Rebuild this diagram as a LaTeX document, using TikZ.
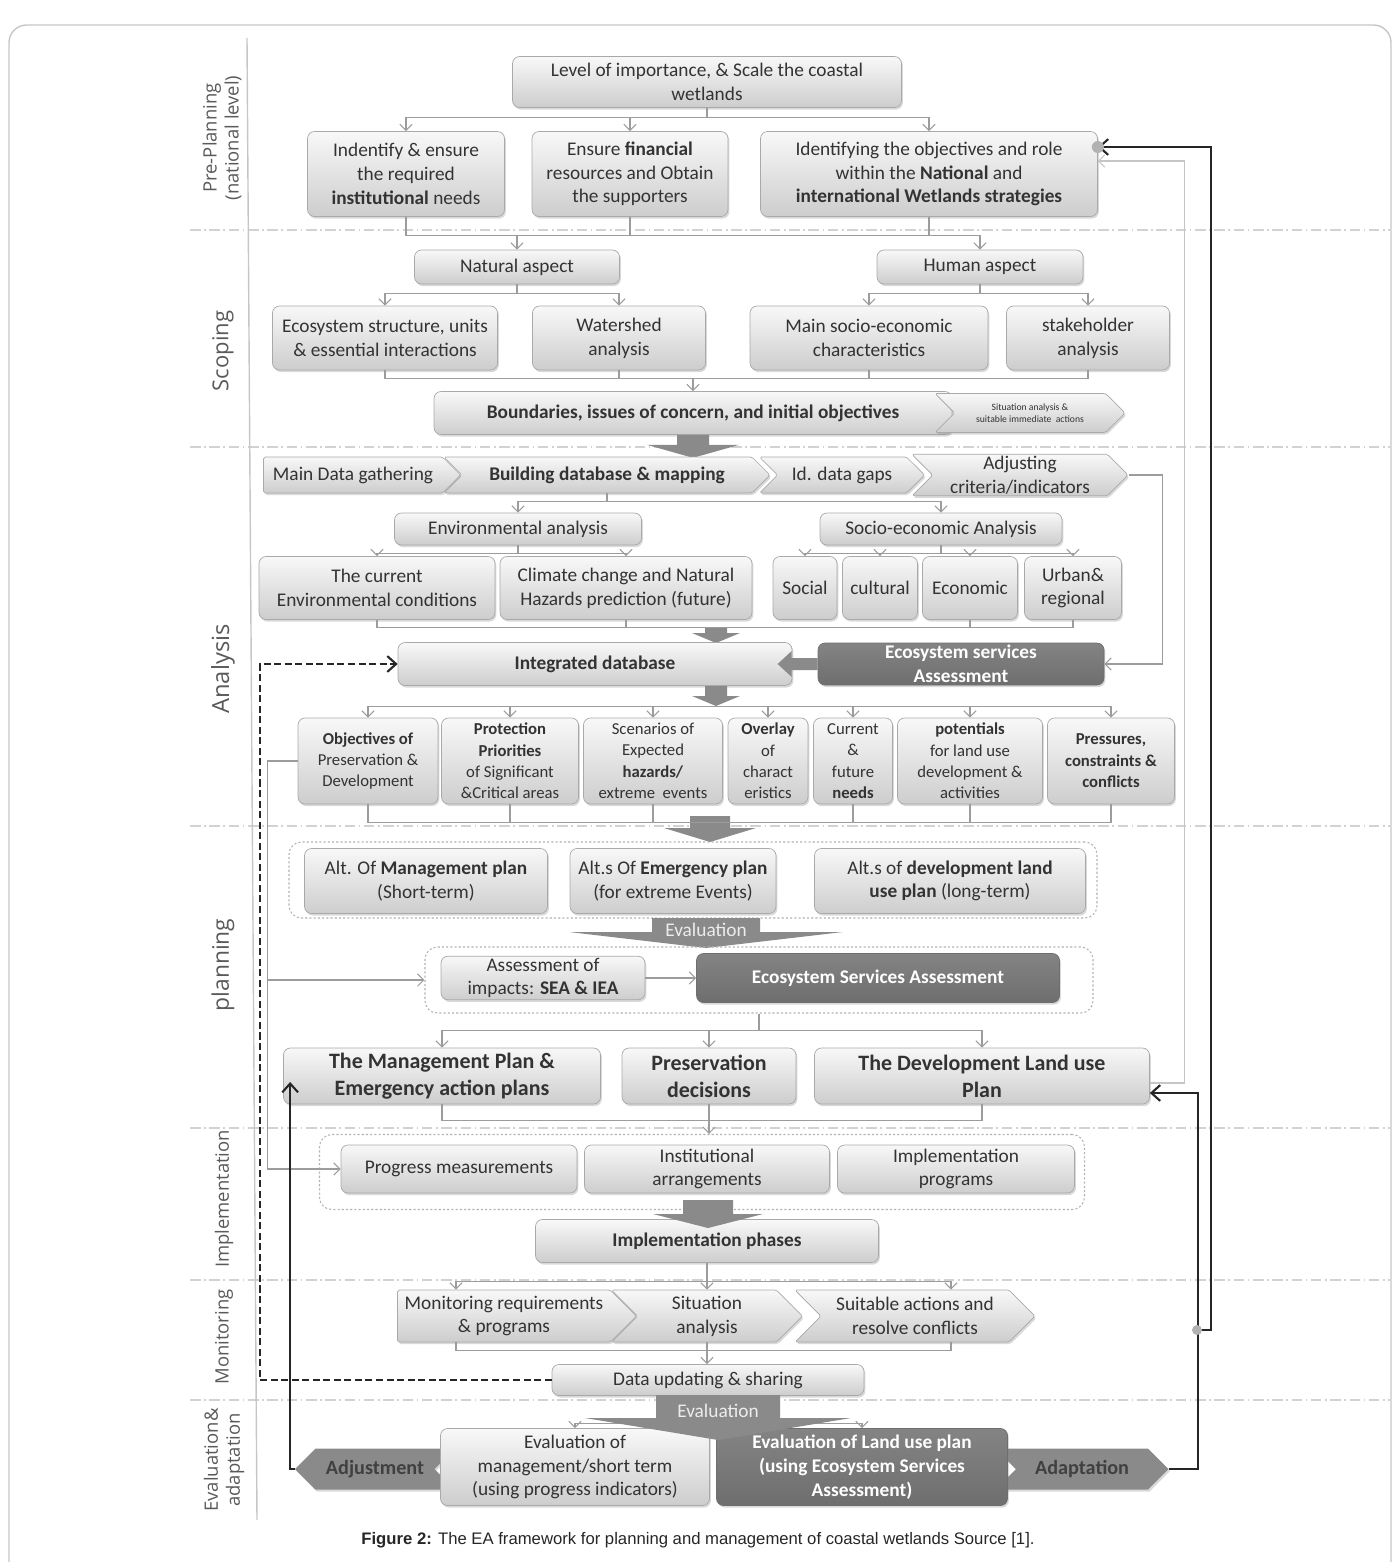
\documentclass[tikz,border=0pt]{standalone}
\usepackage{fontspec}
\setmainfont{Carlito}
\newfontfamily\sidefont{Open Sans}
\newfontfamily\capfont{Liberation Sans}
\usetikzlibrary{arrows.meta,shapes.symbols,shadows}

\definecolor{boxtop}{HTML}{F8F8F8}
\definecolor{boxbot}{HTML}{CDCDCD}
\definecolor{boxline}{HTML}{A9A9A9}
\definecolor{darkfill}{HTML}{6E6E6E}
\definecolor{fatgray}{HTML}{8A8A8A}
\definecolor{linegray}{HTML}{9C9C9C}
\definecolor{txt}{HTML}{333333}
\definecolor{sidegray}{HTML}{5A5A5A}

\tikzset{
  sz/.style 2 args={minimum width=#1*0.02cm, minimum height=#2*0.02cm},
  box/.style={rectangle, rounded corners=4pt, draw=boxline, top color=boxtop,
    bottom color=boxbot, drop shadow={opacity=0.3, shadow xshift=0.8pt,
    shadow yshift=-1.2pt}, align=center, text=txt, inner sep=1pt,
    font=\fontsize{11}{13.5}\selectfont},
  dark/.style={box, top color=darkfill!85, bottom color=darkfill, draw=darkfill,
    text=white, font=\fontsize{11}{13.5}\selectfont\bfseries},
  chev/.style={box, signal, signal to=east, signal from=west, rounded corners=1pt},
  hex/.style={signal, fill=fatgray, text=black!75, inner sep=1pt,
    font=\fontsize{11.5}{13.5}\selectfont\bfseries,
    drop shadow={opacity=0.3, shadow xshift=0.8pt, shadow yshift=-1.2pt}},
  group/.style={draw=gray!60, rounded corners=7pt, line width=0.6pt,
    dash pattern=on 1.2pt off 1.2pt},
  rowtext/.style={font=\fontsize{9.5}{12.2}\selectfont},
  bigtext/.style={font=\fontsize{12.5}{15.5}\selectfont\bfseries},
  side/.style={rotate=90, align=center, text=sidegray,
    font=\sidefont\fontsize{10.5}{12.5}\selectfont},
  divider/.style={draw=gray!35, line width=0.7pt,
    dash pattern=on 6pt off 2pt on 1pt off 2pt},
  wire/.style={draw=linegray, line width=0.6pt},
  link/.style={wire, -{Straight Barb[length=3.5pt,width=7pt]}},
  back/.style={draw=black!85, line width=1.2pt,
    -{Straight Barb[length=5pt,width=9pt]}},
  dashback/.style={back, dash pattern=on 4pt off 2pt},
  pics/fatdown/.style args={#1/#2/#3/#4}{code={
    \fill[fatgray] (-#1,0) -- (#1,0) -- (#1,#3-#4) -- (#2,#3-#4) -- (0,#3)
      -- (-#2,#3-#4) -- (-#1,#3-#4) -- cycle;}},
}

\begin{document}
\begin{tikzpicture}[x=0.02cm, y=-0.02cm]
\useasboundingbox (0,0) rectangle (1398,1562);
\draw[gray!45, line width=0.8pt, rounded corners=10pt]
  (9,1562) -- (9,25) -- (1391,25) -- (1391,1562);
\foreach \y in {230,447,826,1128,1280,1400}
  \draw[divider] (190,\y) -- (1390,\y);
\draw[gray!45, line width=0.8pt] (247,38) -- (257,1520);

% stage labels
\node[side] (lpre) at (222,138) {Pre-Planning\\(national level)};
\node[side, font=\sidefont\fontsize{12.5}{14}\selectfont] (lsco) at (223,351) {Scoping};
\node[side, font=\sidefont\fontsize{13.5}{15}\selectfont] (lana) at (223,669) {Analysis};
\node[side, font=\sidefont\fontsize{13}{15}\selectfont] (lpla) at (223,965) {planning};
\node[side] (limp) at (224,1199) {Implementation};
\node[side] (lmon) at (224,1337) {Monitoring};
\node[side] (leva) at (224,1460) {Evaluation\&\\adaptation};

% pre-planning
\node[box, sz={389}{51}] (top) at (707,82) {Level of importance, \& Scale the coastal\\wetlands};
\node[box, sz={197}{85}] (ra) at (406,174) {Indentify \& ensure\\the required\\\textbf{institutional} needs};
\node[box, sz={196}{85}] (rb) at (630,174) {Ensure \textbf{financial}\\resources and Obtain\\the supporters};
\node[box, sz={337}{85}] (rc) at (929,174) {Identifying the objectives and role\\within the \textbf{National} and\\\textbf{international Wetlands strategies}};

% scoping
\node[box, sz={205}{34}] (nat) at (517,267) {Natural aspect};
\node[box, sz={206}{34}] (hum) at (980,267) {Human aspect};
\node[box, sz={225}{64}] (s1) at (385,338) {Ecosystem structure, units\\\& essential interactions};
\node[box, sz={173}{64}] (s2) at (619,338) {Watershed\\analysis};
\node[box, sz={238}{64}] (s3) at (869,338) {Main socio-economic\\characteristics};
\node[box, sz={163}{64}] (s4) at (1088,338) {stakeholder\\analysis};
\node[box, sz={518}{43}, font=\fontsize{11}{13.5}\selectfont\bfseries] (bound) at (693,413) {Boundaries, issues of concern, and initial objectives};
\node[chev, sz={190}{39}, font=\fontsize{5.5}{7}\selectfont] (sit) at (1030,413) {Situation analysis \&\\suitable immediate\ \ actions};
\pic at (bound.south) {fatdown=16/46/23/13};

% analysis
\node[chev, signal from=nowhere, sz={197}{36}] (c1) at (353,475) {Main Data gathering};
\node[chev, sz={326}{36}, font=\fontsize{11}{13.5}\selectfont\bfseries] (c2) at (607,475) {Building database \& mapping};
\node[chev, sz={165}{36}] (c3) at (842,475) {Id. data gaps};
\node[chev, sz={216}{40}] (c4) at (1020,475) {Adjusting\\criteria/indicators};
\node[box, sz={247}{32}] (env) at (518,529) {Environmental analysis};
\node[box, sz={242}{32}] (soc) at (941,529) {Socio-economic Analysis};
\node[box, sz={236}{63}] (e1) at (377,588) {The current\\Environmental conditions};
\node[box, sz={252}{63}] (e2) at (626,588) {Climate change and Natural\\Hazards prediction (future)};
\node[box, sz={64}{63}] (o1) at (805,588) {Social};
\node[box, sz={75}{63}] (o2) at (880,588) {cultural};
\node[box, sz={95}{63}] (o3) at (970,588) {Economic};
\node[box, sz={97}{63}] (o4) at (1073,588) {Urban\&\\regional};
\pic at (716,627) {fatdown=11/24/16/10};
\node[box, sz={394}{43}, font=\fontsize{11}{13.5}\selectfont\bfseries] (intdb) at (595,664) {Integrated database};
\node[dark, sz={286}{42}] (esa1) at (961,664) {Ecosystem services\\Assessment};
\pic[rotate=-90] at (esa1.west) {fatdown=6/13/40/14};
\pic at (716,686) {fatdown=11/24/20/10};
\node[box, rowtext, sz={140}{86}] (r1) at (368,761) {\textbf{Objectives of}\\Preservation \&\\Development};
\node[box, rowtext, sz={137}{86}] (r2) at (510,761) {\textbf{Protection}\\\textbf{Priorities}\\of Significant\\\&Critical areas};
\node[box, rowtext, sz={139}{86}] (r3) at (653,761) {Scenarios of\\Expected\\\textbf{hazards/}\\extreme\ \ events};
\node[box, rowtext, sz={80}{86}] (r4) at (768,761) {\textbf{Overlay}\\of\\charact\\eristics};
\node[box, rowtext, sz={79}{86}] (r5) at (853,761) {Current\\\&\\future\\\textbf{needs}};
\node[box, rowtext, sz={145}{86}] (r6) at (970,761) {\textbf{potentials}\\for land use\\development \&\\activities};
\node[box, rowtext, sz={127}{86}] (r7) at (1111,761) {\textbf{Pressures,}\\\textbf{constraints \&}\\\textbf{conflicts}};
\pic at (710,816) {fatdown=20/46/26/14};

% planning
\node[group, sz={808}{76}] (g1) at (693,880) {};
\node[box, sz={243}{65}] (p1) at (426,881) {Alt. Of \textbf{Management plan}\\(Short-term)};
\node[box, sz={206}{65}] (p2) at (673,881) {Alt.s Of \textbf{Emergency plan}\\(for extreme Events)};
\node[box, sz={271}{65}] (p3) at (950,881) {Alt.s of \textbf{development land}\\\textbf{use plan} (long-term)};
\pic at (706,918) {fatdown=54/137/30/16};
\node[text=gray!15, font=\fontsize{11}{13}\selectfont] (evtx1) at (706,930) {Evaluation};
\node[group, sz={668}{66}] (g2) at (759,980) {};
\node[box, sz={204}{43}] (imp) at (543,978) {Assessment of\\impacts: \textbf{SEA \& IEA}};
\node[dark, sz={363}{49}] (esa2) at (878,978) {Ecosystem Services Assessment};
\node[box, bigtext, sz={317}{56}] (m1) at (442,1076) {The Management Plan \&\\Emergency action plans};
\node[box, bigtext, sz={174}{56}] (m2) at (709,1076) {Preservation\\decisions};
\node[box, bigtext, sz={335}{56}] (m3) at (982,1076) {The Development Land use\\Plan};

% implementation
\node[group, sz={765}{75}] (g3) at (702,1172) {};
\node[box, sz={236}{48}] (i1) at (459,1169) {Progress measurements};
\node[box, sz={245}{48}] (i2) at (707,1169) {Institutional\\arrangements};
\node[box, sz={237}{48}] (i3) at (956,1169) {Implementation\\programs};
\node[box, sz={343}{43}, font=\fontsize{11}{13.5}\selectfont\bfseries] (phase) at (707,1241) {Implementation phases};
\pic at (708,1200) {fatdown=25/55/28/14};

% monitoring
\node[chev, signal from=nowhere, sz={239}{52}] (mo1) at (504,1316) {Monitoring requirements\\\& programs};
\node[chev, sz={191}{52}] (mo2) at (707,1316) {Situation\\analysis};
\node[chev, sz={240}{52}] (mo3) at (915,1316) {Suitable actions and\\resolve conflicts};
\node[box, sz={312}{31}] (dus) at (708,1380) {Data updating \& sharing};

% evaluation and adaptation
\node[hex, signal to=west, signal from=east, sz={160}{41}] (adj) at (375,1469) {Adjustment};
\node[hex, signal to=east, signal from=west, sz={173}{41}] (ada) at (1082,1469) {Adaptation};
\node[box, sz={269}{77}] (ev1) at (575,1467) {Evaluation of\\management/short term\\(using progress indicators)};
\node[dark, sz={291}{77}] (ev2) at (862,1467) {Evaluation of Land use plan\\(using Ecosystem Services\\Assessment)};
\draw[link] (dus.south) -- ++(0,28) -| (ev1.north);
\draw[link] (dus.south) -- ++(0,28) -| (ev2.north);
\pic at (718,1395) {fatdown=62/133/45/22};
\node[text=gray!15, font=\fontsize{11}{13}\selectfont] (evtx2) at (718,1411) {Evaluation};

% tree connectors
\foreach \t in {ra,rb,rc}
  \draw[link] (top.south) -- ++(0,10) -| (\t.north);
\draw[wire] (ra.south) -- ++(0,19) -| (rc.south);
\draw[wire] (rb.south) -- ++(0,19);
\draw[link] (ra.south) ++(0,19) -| (nat.north);
\draw[link] (ra.south) ++(0,19) -| (hum.north);
\foreach \t in {s1,s2}
  \draw[link] (nat.south) -- ++(0,9) -| (\t.north);
\foreach \t in {s3,s4}
  \draw[link] (hum.south) -- ++(0,9) -| (\t.north);
\draw[wire] (s1.south) -- ++(0,8) -| (s4.south);
\draw[wire] (s2.south) -- ++(0,8);
\draw[wire] (s3.south) -- ++(0,8);
\draw[link] (s1.south) ++(0,8) -| (bound.north);
\draw[link] (c2.south) -- ++(0,8) -| (env.north);
\draw[link] (c2.south) -- ++(0,8) -| (soc.north);
\foreach \t in {e1,e2}
  \draw[link] (env.south) -- ++(0,8) -| (\t.north);
\foreach \t in {o1,o2,o3,o4}
  \draw[link] (soc.south) -- ++(0,8) -| (\t.north);
\draw[wire] (e1.south) -- ++(0,8) -| (o4.south);
\draw[wire] (e2.south) -- ++(0,8);
\draw[wire] (o3.south) -- ++(0,8);
\foreach \t in {r1,r2,r3,r4,r5,r6,r7}
  \draw[link] (intdb.south) ++(0,21) -| (\t.north);
\draw[wire] (r1.south) -- ++(0,18) -| (r7.south);
\foreach \t in {r2,r3,r5,r6}
  \draw[wire] (\t.south) -- ++(0,18);
\draw[link] (imp) -- (esa2);
\foreach \t in {m1,m2,m3}
  \draw[link] (g2.south) -- ++(0,17) -| (\t.north);
\draw[wire] (m1.south) -- ++(0,16) -| (m3.south);
\draw[link] (m2.south) -- (m2.south |- g3.north);
\draw[link] (phase.south) -- ++(0,19) -| ([xshift=-0.96cm]mo1.north);
\draw[link] (phase.south) -- (mo2.north);
\draw[link] (phase.south) -- ++(0,19) -| ([xshift=0.72cm]mo3.north);
\draw[wire] ([xshift=-0.96cm]mo1.south) -- ++(0,8) -| ([xshift=0.72cm]mo3.south);
\draw[link] (mo2.south) -- (mo2.south |- dus.north);

% feedback lines
\draw[link] (c4.east) -- ++(34,0) |- (esa1.east);
\draw[link] (r1.west) -- ++(-30,0) |- (g2.west);
\draw[link] (r1.west) -- ++(-30,0) |- (i1.west);
\draw[link, draw=gray!45] ([yshift=-0.14cm]m3.east) -- ++(35,0) |- ([yshift=0.26cm]rc.east);
\draw[dashback] (dus.west) -- ++(-292,0) |- (intdb.west);
\draw[back] (adj.west) -| ([xshift=0.14cm,yshift=-0.12cm]m1.west);
\draw[back] (ada.east) -- ++(29,0) |- ([yshift=-0.34cm]m3.east);
\coordinate (split) at (1197,1330);
\draw[back] (split) -- ++(14,0) |- ([yshift=0.54cm]rc.east);
\fill[gray!60] (split) circle (5);
\fill[gray!60] ([yshift=0.54cm]rc.east) circle (6);

% caption
\node[font=\capfont\fontsize{9.5}{11}\selectfont, text=black!85] (cap) at (698,1540)
  {\textbf{Figure 2:} The EA framework for planning and management of coastal wetlands Source [1].};
\end{tikzpicture}
\end{document}
